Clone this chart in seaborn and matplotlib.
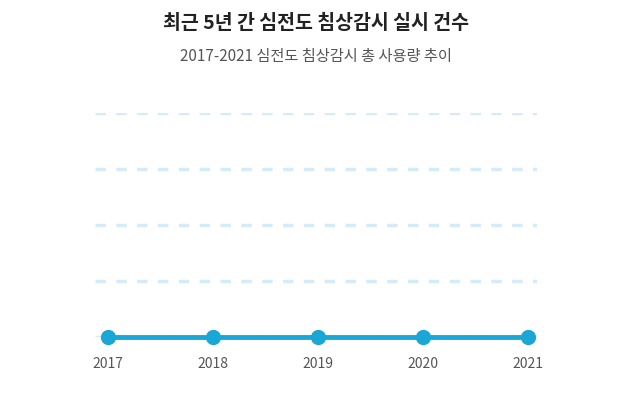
import matplotlib
matplotlib.use("Agg")
import matplotlib.pyplot as plt
import seaborn as sns
import pandas as pd

years = [2017, 2018, 2019, 2020, 2021]
counts = [0, 0, 0, 0, 0]
title = "최근 5년 간 심전도 침상감시 실시 건수"
subtitle = "2017-2021 심전도 침상감시 총 사용량 추이"

sns.set_style("white")
plt.rcParams['font.family'] = ['Noto Sans CJK KR', 'DejaVu Sans']

df = pd.DataFrame({"year": years, "count": counts})

fig = plt.figure(figsize=(6.32, 4.06), dpi=100)
ax = fig.add_axes([0.150, 0.1675, 0.700, 0.5515])

for y in [0, 1, 2, 3, 4]:
    ax.axhline(y, color="#d3ecf7", linewidth=2.5, linestyle=(0, (3, 3)), zorder=0)

sns.lineplot(data=df, x="year", y="count", ax=ax, color="#1aa7d6",
             linewidth=3.5, marker="o", markersize=11, markeredgewidth=0,
             clip_on=False, zorder=3)

ax.set_xlim(2016.876, 2021.086)
ax.set_ylim(0, 4)
ax.set_xticks(years)
ax.set_xticklabels([str(y) for y in years], fontsize=10, color="#555555")
ax.set_yticks([])
ax.set_xlabel("")
ax.set_ylabel("")
ax.tick_params(axis="x", length=0, pad=14)
for s in ax.spines.values():
    s.set_visible(False)

fig.text(0.5, 1 - 23 / 406, title, ha="center", va="center",
         fontsize=14, fontweight="bold", color="#222222")
fig.text(0.5, 1 - 57 / 406, subtitle, ha="center", va="center",
         fontsize=11, color="#555555")

fig.savefig("out.png", dpi=100)
